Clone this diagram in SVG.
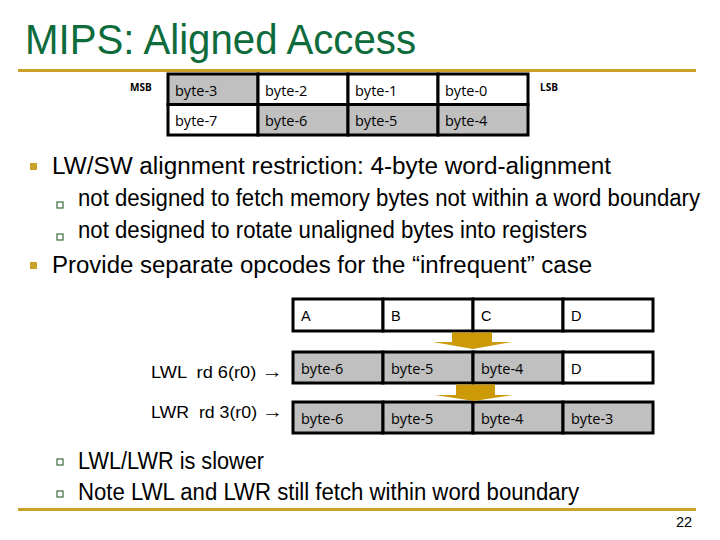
<svg xmlns="http://www.w3.org/2000/svg" width="720" height="540" viewBox="0 0 720 540">
<style>
.title{font-family:"Liberation Sans",Arial,sans-serif;font-size:42px;fill:#0d6b3c}
.b1{font-family:"Liberation Sans",Arial,sans-serif;font-size:23px;fill:#000}
.cell{stroke:#000;stroke-width:3}
.g{fill:#c0c0c0}
.w{fill:#fff}
.bt{font-family:"Open Sans","Noto Sans",sans-serif;font-size:14.5px;fill:#000}
.lt{font-family:"Liberation Sans",Arial,sans-serif;font-size:14.5px;fill:#000}
.lbl{font-family:"Liberation Sans",Arial,sans-serif;font-size:16px;fill:#000;white-space:pre}
.sm{font-family:"Open Sans","Noto Sans",sans-serif;font-size:10px;font-weight:bold;fill:#000}
.gold{fill:#c9a227}
.sq{fill:#fff;stroke:#3d6b3d;stroke-width:1.2}
.arr{fill:#cc9a06}
</style>
<rect width="720" height="540" fill="#fff"/>
<text class="title" x="25" y="54" textLength="391" lengthAdjust="spacingAndGlyphs">MIPS: Aligned Access</text>
<rect class="gold" x="18" y="69" width="678" height="3"/>
<rect class="gold" x="18" y="508" width="678" height="3"/>

<text class="sm" x="130" y="91">MSB</text>
<text class="sm" x="540" y="91">LSB</text>

<g id="mem-row0">
<g id="byte-3"><rect class="cell g" x="168" y="74" width="90" height="30.5"/><text class="bt" x="175" y="96">byte-3</text></g>
<g id="byte-2"><rect class="cell w" x="258" y="74" width="90" height="30.5"/><text class="bt" x="265" y="96">byte-2</text></g>
<g id="byte-1"><rect class="cell w" x="348" y="74" width="90" height="30.5"/><text class="bt" x="355" y="96">byte-1</text></g>
<g id="byte-0"><rect class="cell w" x="438" y="74" width="90" height="30.5"/><text class="bt" x="445" y="96">byte-0</text></g>
</g>
<g id="mem-row1">
<g id="byte-7"><rect class="cell w" x="168" y="104.5" width="90" height="30.5"/><text class="bt" x="175" y="126">byte-7</text></g>
<g id="byte-6"><rect class="cell g" x="258" y="104.5" width="90" height="30.5"/><text class="bt" x="265" y="126">byte-6</text></g>
<g id="byte-5"><rect class="cell g" x="348" y="104.5" width="90" height="30.5"/><text class="bt" x="355" y="126">byte-5</text></g>
<g id="byte-4"><rect class="cell g" x="438" y="104.5" width="90" height="30.5"/><text class="bt" x="445" y="126">byte-4</text></g>
</g>

<rect class="gold" x="30" y="163" width="7" height="7"/>
<text class="b1" x="52" y="174" textLength="559" lengthAdjust="spacingAndGlyphs">LW/SW alignment restriction: 4-byte word-alignment</text>
<rect class="sq" x="57" y="202" width="6" height="6"/>
<text class="b1" x="78" y="206" font-size="20" textLength="622" lengthAdjust="spacingAndGlyphs">not designed to fetch memory bytes not within a word boundary</text>
<rect class="sq" x="57" y="234" width="6" height="6"/>
<text class="b1" x="78" y="238" font-size="21" textLength="509" lengthAdjust="spacingAndGlyphs">not designed to rotate unaligned bytes into registers</text>
<rect class="gold" x="30" y="262" width="7" height="7"/>
<text class="b1" x="52" y="273" textLength="540" lengthAdjust="spacingAndGlyphs">Provide separate opcodes for the “infrequent” case</text>

<g id="reg-orig">
<g id="cA"><rect class="cell w" x="293" y="299" width="90" height="32"/><text class="lt" x="301" y="321">A</text></g>
<g id="cB"><rect class="cell w" x="383" y="299" width="90" height="32"/><text class="lt" x="391" y="321">B</text></g>
<g id="cC"><rect class="cell w" x="473" y="299" width="90" height="32"/><text class="lt" x="481" y="321">C</text></g>
<g id="cD"><rect class="cell w" x="563" y="299" width="90" height="32"/><text class="lt" x="571" y="321">D</text></g>
</g>
<text class="lbl" x="151" y="378" xml:space="preserve" textLength="132" lengthAdjust="spacingAndGlyphs">LWL  rd 6(r0) <tspan font-size="19">→</tspan></text>
<g id="reg-lwl">
<g id="l6"><rect class="cell g" x="293" y="352" width="90" height="31"/><text class="bt" x="301" y="374">byte-6</text></g>
<g id="l5"><rect class="cell g" x="383" y="352" width="90" height="31"/><text class="bt" x="391" y="374">byte-5</text></g>
<g id="l4"><rect class="cell g" x="473" y="352" width="90" height="31"/><text class="bt" x="481" y="374">byte-4</text></g>
<g id="lD"><rect class="cell w" x="563" y="352" width="90" height="31"/><text class="lt" x="571" y="374">D</text></g>
</g>
<text class="lbl" x="151" y="418" xml:space="preserve" textLength="132" lengthAdjust="spacingAndGlyphs">LWR  rd 3(r0) <tspan font-size="19">→</tspan></text>
<g id="reg-lwr">
<g id="r6"><rect class="cell g" x="293" y="402" width="90" height="31"/><text class="bt" x="301" y="424">byte-6</text></g>
<g id="r5"><rect class="cell g" x="383" y="402" width="90" height="31"/><text class="bt" x="391" y="424">byte-5</text></g>
<g id="r4"><rect class="cell g" x="473" y="402" width="90" height="31"/><text class="bt" x="481" y="424">byte-4</text></g>
<g id="r3"><rect class="cell g" x="563" y="402" width="90" height="31"/><text class="bt" x="571" y="424">byte-3</text></g>
</g>

<g id="connectors">
<path class="arr" d="M452,332.5 H492 V342 H512 L473,349 L433,342 H452 Z"/>
<path class="arr" d="M456,384.5 H495 V395 H513 L474,401 L435,395 H456 Z"/>
</g>

<rect class="sq" x="57" y="459" width="6" height="6"/>
<text class="b1" x="78" y="469" font-size="21" textLength="186" lengthAdjust="spacingAndGlyphs">LWL/LWR is slower</text>
<rect class="sq" x="57" y="491" width="6" height="6"/>
<text class="b1" x="78" y="500" font-size="21" textLength="501" lengthAdjust="spacingAndGlyphs">Note LWL and LWR still fetch within word boundary</text>
<text class="lt" x="676" y="527" font-size="16">22</text>
</svg>
